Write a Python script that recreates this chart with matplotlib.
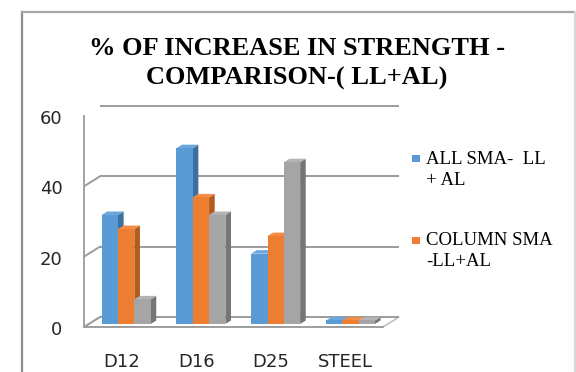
import matplotlib
matplotlib.use("Agg")
import matplotlib.pyplot as plt
from matplotlib.patches import Polygon, Rectangle
from matplotlib.lines import Line2D
from matplotlib.transforms import offset_copy, IdentityTransform

# ---- data -------------------------------------------------------------
categories = ["D12", "D16", "D25", "STEEL"]
series_names = ["ALL SMA-  LL\n+ AL", "COLUMN SMA\n-LL+AL", "BEAM SMA"]
all_sma = [31, 50, 20, 1]
column_sma = [27, 36, 25, 1]
third_sma = [7, 31, 46, 1]
y_ticks = [0, 20, 40, 60]
title = "% OF INCREASE IN STRENGTH -\nCOMPARISON-( LL+AL)"

series_values = [all_sma, column_sma, third_sma]
front_colors = ["#5b9bd5", "#ed7d31", "#a5a5a5"]
side_colors = ["#3f6f9e", "#b35b1e", "#767676"]
top_colors = ["#6ba7dd", "#f28c47", "#b4b4b4"]

W, H, DPI = 576, 372, 100
fig = plt.figure(figsize=(W / DPI, H / DPI), dpi=DPI)
fig.patch.set_facecolor("white")

# chart frame
frame_kw = dict(transform=fig.transFigure, lw=1.6)
fig.add_artist(Line2D([21.5 / W, 21.5 / W], [0, 1 - 11.5 / H], color="#8c8c8c", **frame_kw))
fig.add_artist(Line2D([21.5 / W, 575.5 / W], [1 - 11.5 / H, 1 - 11.5 / H], color="#a6a6a6", **frame_kw))
fig.add_artist(Line2D([575.0 / W, 575.0 / W], [0, 1 - 11.5 / H], color="#d9d9d9", **frame_kw))

# front plane of the plot (floor front edge and front of value axis)
ax = fig.add_axes([84 / W, 45 / H, 299 / W, 211 / H])
ax.set_xlim(0, len(categories))
ax.set_ylim(0, 60)
ax.axis("off")

# depth of the floor in pixels, and bar depth band (fractions of that depth)
DX, DY = 16.0, 10.0
BAR_F0, BAR_F1 = 0.30, 0.65
back = offset_copy(ax.transData, fig=fig, x=DX, y=DY, units="dots")
ylab_tr = offset_copy(ax.transData, fig=fig, x=0, y=-3, units="dots")

def to_px(x, y, f):
    px, py = ax.transData.transform((x, y))
    return (px + f * DX, py + f * DY)

grid_color = "#9c9c9c"
n = len(categories)

# floor
floor = Polygon([to_px(0, 0, 0), to_px(n, 0, 0), to_px(n, 0, 1), to_px(0, 0, 1)],
                closed=True, transform=IdentityTransform(), facecolor="white",
                edgecolor="#bfbfbf", lw=1.2, zorder=0.5, clip_on=False)
ax.add_artist(floor)

# back-wall gridlines and their side-wall diagonals
for v in y_ticks:
    ax.plot([0, n], [v, v], color=grid_color, lw=1.4, transform=back,
            clip_on=False, zorder=1, solid_capstyle="butt")
    p0, p1 = to_px(0, v, 0), to_px(0, v, 1)
    ax.add_artist(Line2D([p0[0], p1[0]], [p0[1], p1[1]], color=grid_color, lw=1.4,
                         transform=IdentityTransform(), zorder=1))
    # value-axis tick marks
    t0 = to_px(0, v, 0)
    ax.add_artist(Line2D([t0[0] - 5, t0[0]], [t0[1], t0[1]], color=grid_color, lw=1.3,
                         transform=IdentityTransform(), zorder=1))
    ax.text(-0.29, v, str(v), ha="right", va="center", fontsize=13,
            family="DejaVu Sans", color="#262626", transform=ylab_tr)

# value axis line
ax.plot([0, 0], [0, 60], color=grid_color, lw=1.3, clip_on=False, zorder=1)
# floor front edge and right edge
ax.plot([0, n], [0, 0], color=grid_color, lw=1.3, clip_on=False, zorder=1.2)
r0, r1 = to_px(n, 0, 0), to_px(n, 0, 1)
ax.add_artist(Line2D([r0[0], r1[0]], [r0[1], r1[1]], color=grid_color, lw=1.3,
                     transform=IdentityTransform(), zorder=1.2))

# category tick marks and labels
for k in range(n + 1):
    b0 = to_px(k, 0, 0)
    ax.add_artist(Line2D([b0[0], b0[0]], [b0[1], b0[1] - 9], color=grid_color, lw=1.3,
                         transform=IdentityTransform(), zorder=1))
for k, cat in enumerate(categories):
    c = to_px(k + 0.5, 0, 0)
    ax.text(c[0], c[1] - 35, cat, ha="center", va="center", fontsize=13,
            family="DejaVu Sans", color="#262626", transform=IdentityTransform())

# 3-D columns
bar_w = 0.2183
group_start = 0.5 - 1.5 * bar_w
front_tr = offset_copy(ax.transData, fig=fig, x=BAR_F0 * DX, y=BAR_F0 * DY, units="dots")
for k in range(n):
    for i, vals in enumerate(series_values):
        v = vals[k]
        x0 = k + group_start + i * bar_w
        x1 = x0 + bar_w
        z = 2 + i * 0.1
        side = Polygon([to_px(x1, 0, BAR_F0), to_px(x1, v, BAR_F0),
                        to_px(x1, v, BAR_F1), to_px(x1, 0, BAR_F1)],
                       closed=True, transform=IdentityTransform(),
                       facecolor=side_colors[i], edgecolor="none", zorder=z)
        top = Polygon([to_px(x0, v, BAR_F0), to_px(x1, v, BAR_F0),
                       to_px(x1, v, BAR_F1), to_px(x0, v, BAR_F1)],
                      closed=True, transform=IdentityTransform(),
                      facecolor=top_colors[i], edgecolor="none", zorder=z)
        ax.add_artist(side)
        ax.add_artist(top)
        bars = ax.bar([x0], [v], width=bar_w, align="edge", color=front_colors[i],
                      zorder=z + 0.01)
        for rect in bars:
            rect.set_transform(front_tr)
            rect.set_clip_on(False)

# title
fig.text(297 / W, 1 - 37 / H, title, ha="center", va="top", fontsize=19,
         family="Liberation Serif", fontweight="bold", color="#000000",
         linespacing=1.36)

# legend (first two series)
legend_y = [159, 240]
for i in range(2):
    cy = H - legend_y[i]
    fig.add_artist(Rectangle((412 / W, (cy - 3.5) / H), 8 / W, 7 / H,
                             transform=fig.transFigure, facecolor=front_colors[i],
                             edgecolor="none"))
    fig.text(426 / W, (cy + 8) / H, series_names[i], ha="left", va="top",
             fontsize=13.5, family="Liberation Serif", color="#000000",
             linespacing=1.3)

fig.savefig("out.png", dpi=DPI, facecolor="white")
